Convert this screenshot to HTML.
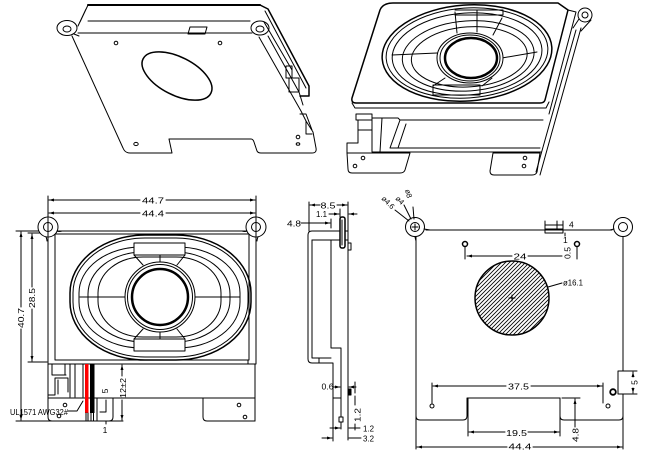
<!DOCTYPE html>
<html><head><meta charset="utf-8"><style>
html,body{margin:0;padding:0;background:#fff;width:646px;height:452px;overflow:hidden}
svg{display:block}
.t text{font-family:"Liberation Sans",sans-serif;font-size:8.5px;fill:#000;stroke:none}
</style></head><body>
<svg width="646" height="452" viewBox="0 0 646 452" xmlns="http://www.w3.org/2000/svg">
<defs>
<marker id="a" viewBox="0 0 10 6" refX="10" refY="3" markerWidth="5" markerHeight="3" orient="auto" markerUnits="userSpaceOnUse"><path d="M0,0 L10,3 L0,6 Z" fill="#000"/></marker>
<pattern id="h" patternUnits="userSpaceOnUse" width="4" height="4"><path d="M-1,1 L1,-1 M0,4 L4,0 M3,5 L5,3" stroke="#000" stroke-width="0.8"/></pattern>
</defs>
<rect width="646" height="452" fill="#fff"/>
<g fill="none" stroke="#000" stroke-width="1" stroke-linejoin="round" stroke-linecap="round">

<!-- ===== TOP-LEFT 3D ===== -->
<path d="M88,5 H260" stroke-width="2"/>
<path d="M88,5 L80,22 M86,9 L78,26"/>
<path d="M88,21 H250"/>
<path d="M78,33 H252"/>
<path d="M72,36 L123,148 Q125,153 130,153 H172 L169,139 H251 Q253,139 254,142 L257,151 Q258,153 261,153 H312 Q317,153 316,148 L313,132 L306,121 L301,111 L259,37"/>
<ellipse cx="67" cy="28" rx="10" ry="7.5" fill="#fff"/>
<ellipse cx="67" cy="29" rx="4" ry="3"/>
<path d="M74,34 L79,36"/>
<ellipse cx="260" cy="28" rx="9" ry="7" fill="#fff"/>
<ellipse cx="260" cy="29" rx="4" ry="3"/>
<path d="M260,5 L268,9 L309,86 V96 H300" stroke-width="1.5"/>
<path d="M265,11 L306,88"/>
<path d="M264,22 L292,70"/>
<path d="M268,36 L299,92 L303,105"/>
<path d="M286,66 H292 V78 H286 Z M289,78 H299 V92 H289 Z"/>
<path d="M300,114 H306 L312,130 M306,121 V134 H312"/>
<path d="M190,27 H207 L205,34 H188 Z"/>
<circle cx="116" cy="43" r="1.8"/>
<circle cx="220" cy="43" r="1.8"/>
<ellipse cx="136" cy="144" rx="2.2" ry="1.6"/>
<circle cx="298" cy="137" r="1.8"/>
<ellipse cx="298" cy="144" rx="1.8" ry="1.3"/>
<ellipse cx="177" cy="76" rx="38" ry="19" transform="rotate(27 177 76)" stroke-width="1.5"/>

<!-- ===== TOP-RIGHT 3D ===== -->
<path d="M393,3 H558 L568,10 L545,100 Q544,103 540,103 H356 Q351,103 352,98 L380,10 Q383,3 393,3 Z" stroke-width="1.5"/>
<path d="M352,103 L355,108 H546 L549,102"/>
<path d="M568,10 L576,12 L549,114"/>
<path d="M581,28 L540,175 M576,30 L536,172"/>
<path d="M579,19 L573,28 M591,20 L581,31"/>
<circle cx="585" cy="15" r="7" fill="#fff"/>
<circle cx="585" cy="15" r="3"/>
<g transform="rotate(-4 467 53)">
<ellipse cx="467" cy="53" rx="85" ry="48" stroke-width="1.5"/>
<ellipse cx="467" cy="53" rx="81" ry="45"/>
<ellipse cx="467" cy="54" rx="75" ry="41"/>
<ellipse cx="468" cy="56" rx="66" ry="35"/>
<ellipse cx="469" cy="57" rx="58" ry="30"/>
</g>
<path d="M455,12 L457,33 M477,10 L477,32 M502,18 L493,35 M392,55 L437,53 M502,58 L537,52 M433,86 L445,78 M482,86 L492,78"/>
<path d="M433,85 H480 V95 H433 Z M455,10 H503 V15 H455"/>
<ellipse cx="470" cy="58" rx="33" ry="25" fill="#fff"/>
<ellipse cx="470" cy="58" rx="30" ry="23"/>
<ellipse cx="471" cy="58" rx="26" ry="20" stroke-width="2.5"/>
<path d="M400,120 H543 M400,120 L390,148 H540 M373,152 H541 M406,124 L398,148"/>
<path d="M356,114 H372 V120 H356 Z M358,120 V143 H347 V153 M358,130 H372 M372,118 H382 L380,152 H372 Z M382,118 H398 L400,120"/>
<path d="M347,153 H410 L405,170 Q404,173 400,173 H352 Q348,173 348,169 Z"/>
<path d="M493,153 H540 L537,172 Q536,175 532,175 H494 Q490,175 490,171 Z"/>
<circle cx="363" cy="158" r="1.8"/><circle cx="355" cy="166" r="1.8"/>
<circle cx="525" cy="158" r="1.8"/><circle cx="524" cy="166" r="1.8"/>

<!-- ===== FRONT VIEW ===== -->
<path d="M48,196 V218 M256,196 V218"/>
<path d="M140,200 H49" marker-end="url(#a)"/><path d="M166,200 H255" marker-end="url(#a)"/>
<path d="M140,213 H49" marker-end="url(#a)"/><path d="M166,213 H255" marker-end="url(#a)"/>
<path d="M16,231 H46 M28,233 H46 M28,362 H47 M16,421 H123"/>
<path d="M21,307 V232" marker-end="url(#a)"/><path d="M21,329 V420" marker-end="url(#a)"/>
<path d="M32,287 V234" marker-end="url(#a)"/><path d="M32,309 V361" marker-end="url(#a)"/>
<rect x="48" y="231" width="208" height="133"/>
<path d="M55,234 H249 V360 H55 Z"/>
<rect x="70" y="235" width="181" height="125" rx="75" ry="58" stroke-width="1.5"/>
<rect x="73" y="238" width="175" height="119" rx="72" ry="55"/>
<rect x="79" y="247" width="161" height="101" rx="62" ry="46"/>
<rect x="88" y="252" width="142" height="90" rx="55" ry="42"/>
<rect x="98" y="257" width="123" height="80" rx="45" ry="36"/>
<rect x="134" y="243" width="51" height="12" fill="#fff"/>
<rect x="134" y="339" width="51" height="12" fill="#fff"/>
<path d="M80,297 H125 M195,297 H240 M160,255 V262 M160,332 V339 M134,255 L143,265 M185,255 L177,265 M134,339 L143,329 M185,339 L177,329"/>
<circle cx="160" cy="297" r="35" fill="#fff"/>
<circle cx="160" cy="297" r="32.5"/>
<circle cx="160" cy="297" r="28" stroke-width="2.5"/>
<circle cx="48" cy="227" r="10" fill="#fff"/>
<circle cx="48" cy="227" r="4.5"/>
<path d="M57,231 Q59,232 62,231 M46,237 Q47,239 47,241 M48,218 V236"/>
<circle cx="256" cy="227" r="10" fill="#fff"/>
<circle cx="256" cy="227" r="4.5"/>
<path d="M247,231 Q245,232 242,231 M258,237 Q257,239 257,241 M256,218 V236"/>
<path d="M48,364 V398 H255 M255,364 V421"/>
<path d="M48,398 V417 Q48,421 52,421 H109 Q113,421 113,417 V398"/>
<path d="M203,398 V417 Q203,421 207,421 H255"/>
<circle cx="65" cy="405" r="1.8"/><circle cx="59" cy="416" r="1.8"/>
<circle cx="239" cy="405" r="1.8"/><circle cx="245" cy="417" r="1.8"/>
<path d="M52,364 V375 H66 M55,378 H68 V392 M55,378 V395 H48 M58,380 V394 M65,364 V375 M70,364 V397 M75,364 V397 M83,364 V397"/>
<path d="M238,360 H248 V364"/>
<rect x="85" y="364" width="3.5" height="49" fill="#ff0000" stroke="none"/>
<rect x="90" y="364" width="4.5" height="49" fill="#000" stroke="none"/>
<path d="M86,413 V421 M88,413 V421 M91,413 V421 M93.5,413 V421"/>
<path d="M97,398 V421 M106,400 V412 H100 M106,421 V424"/>
<path d="M68,411 H77 L83,401"/>
<path d="M122,376 V365" marker-end="url(#a)"/><path d="M122,400 V420" marker-end="url(#a)"/>

<!-- ===== SIDE VIEW ===== -->
<path d="M309,202 V231 M348,202 V231"/>
<path d="M320,205 H310" marker-end="url(#a)"/><path d="M337,205 H347" marker-end="url(#a)"/>
<path d="M329,214 H339" marker-end="url(#a)"/><path d="M357,214 H349" marker-end="url(#a)"/>
<path d="M340,209 V217"/>
<path d="M301,223 H330" marker-end="url(#a)"/><path d="M331,219 V228"/>
<path d="M312,231 H348 M312,240 H348"/>
<path d="M312,231 Q308,231 308,235 V359 Q308,363 312,363 H333 V398 H341"/>
<path d="M312,240 V358 H331 M319,358 V363"/>
<path d="M331,240 V348 H341 V429"/>
<path d="M348,231 V440"/>
<rect x="340" y="217" width="5" height="31" rx="2" fill="#fff" stroke-width="1.5"/>
<path d="M342,220 V245"/>
<path d="M348,243 H351 V250 H348"/>
<rect x="348" y="389" width="3" height="6" fill="#000"/>
<rect x="339" y="417" width="4" height="5" fill="#fff"/>
<path d="M333,387 H340" marker-end="url(#a)"/><path d="M356,387 H349" marker-end="url(#a)"/>
<path d="M355,382 V393"/>
<path d="M355,396 V405 M355,424 V430"/>
<path d="M330,428 H340" marker-end="url(#a)"/><path d="M349,428 H360"/>
<path d="M322,438 H332" marker-end="url(#a)"/><path d="M349,438 H361"/>
<path d="M333,398 V441"/>

<!-- ===== RIGHT VIEW ===== -->
<path d="M426,230 H612"/>
<path d="M416,237 V449"/>
<path d="M623,237 V371 H618 V394 H623 V449"/>
<path d="M623,371 H637 M623,394 H637"/>
<path d="M633,377 V372" marker-end="url(#a)"/><path d="M633,388 V393" marker-end="url(#a)"/>
<circle cx="415" cy="227" r="9.5" fill="#fff"/>
<path d="M424,229 L430,230 M415,237 L416,241"/>
<circle cx="415" cy="227" r="4.5"/>
<path d="M412,227 H418 M415,224 V230"/>
<circle cx="623" cy="227" r="9.5" fill="#fff"/>
<circle cx="623" cy="227" r="4.5"/>
<path d="M614,229 L610,230"/>
<path d="M416,416 Q416,420 420,420 H463 Q467,420 467,416 V398 H560 V416 Q560,420 564,420 H619 Q623,420 623,416"/>
<path d="M468,398 V436 M560,398 V436"/>
<path d="M505,432 H469" marker-end="url(#a)"/><path d="M528,432 H559" marker-end="url(#a)"/>
<path d="M562,398 H580"/>
<path d="M575,412 V399" marker-end="url(#a)"/><path d="M575,412 V427"/>
<path d="M432,383 V403 M603,383 V403"/>
<path d="M506,386 H433" marker-end="url(#a)"/><path d="M531,386 H602" marker-end="url(#a)"/>
<path d="M507,447 H417" marker-end="url(#a)"/><path d="M533,447 H622" marker-end="url(#a)"/>
<circle cx="432" cy="406" r="2"/>
<circle cx="608" cy="406" r="2"/>
<circle cx="613" cy="392" r="2.8" stroke-width="1.8"/>
<circle cx="465" cy="244" r="2.5" stroke-width="1.5"/><path d="M465,247 V259"/>
<circle cx="577" cy="244" r="2.5" stroke-width="1.5"/><path d="M577,247 V259"/>
<path d="M512,256 H467" marker-end="url(#a)"/><path d="M528,256 H562"/>
<path d="M545,221 V229 M557,221 V229 M563,221 V229 M545,225 H563"/>
<rect x="545" y="229" width="18" height="4"/>
<path d="M565,233 V236"/>
<circle cx="512" cy="298" r="37" fill="url(#h)" stroke-width="1.5"/>
<path d="M509,298 H515 M512,295 V301"/>
<path d="M548,287 L562,283"/>
<path d="M395,210 L409,221 M404,205 L411,219 M413,207 L414,219"/>
</g>

<g class="t">
<text x="153" y="203.5" text-anchor="middle" textLength="22" lengthAdjust="spacingAndGlyphs">44.7</text>
<text x="153" y="216.5" text-anchor="middle" textLength="22" lengthAdjust="spacingAndGlyphs">44.4</text>
<text transform="translate(24,318) rotate(-90)" text-anchor="middle" textLength="20" lengthAdjust="spacingAndGlyphs">40.7</text>
<text transform="translate(35,298) rotate(-90)" text-anchor="middle" textLength="20" lengthAdjust="spacingAndGlyphs">28.5</text>
<text transform="translate(126,388) rotate(-90)" text-anchor="middle" textLength="20" lengthAdjust="spacingAndGlyphs">12±2</text>
<text transform="translate(108,391) rotate(-90)" text-anchor="middle">5</text>
<text x="105" y="433" text-anchor="middle">1</text>
<text x="10" y="415" font-size="8" textLength="58" lengthAdjust="spacingAndGlyphs" style="font-size:8px">UL1571 AWG32#</text>

<text x="328" y="208.5" text-anchor="middle" textLength="15" lengthAdjust="spacingAndGlyphs">8.5</text>
<text x="321.5" y="217" text-anchor="middle" textLength="11" lengthAdjust="spacingAndGlyphs">1.1</text>
<text x="294" y="226.5" text-anchor="middle" textLength="14" lengthAdjust="spacingAndGlyphs">4.8</text>
<text x="327.5" y="389.5" text-anchor="middle" textLength="12" lengthAdjust="spacingAndGlyphs">0.6</text>
<text transform="translate(360.5,415) rotate(-90)" text-anchor="middle" textLength="14" lengthAdjust="spacingAndGlyphs">1.2</text>
<text x="368.5" y="431.5" text-anchor="middle" textLength="11" lengthAdjust="spacingAndGlyphs">1.2</text>
<text x="368.5" y="441.5" text-anchor="middle" textLength="11" lengthAdjust="spacingAndGlyphs">3.2</text>

<text transform="translate(381,199) rotate(45)" style="font-size:7.5px">ø4.6</text>
<text transform="translate(395,199) rotate(45)" style="font-size:7.5px">ø4</text>
<text transform="translate(405,190) rotate(75)" style="font-size:7.5px">ø8</text>
<text x="569" y="227.5">4</text>
<text x="563" y="243">1</text>
<text transform="translate(570.5,253) rotate(-90)" text-anchor="middle" textLength="12" lengthAdjust="spacingAndGlyphs">0.5</text>
<text x="520" y="259.5" text-anchor="middle" textLength="13" lengthAdjust="spacingAndGlyphs">24</text>
<text x="563" y="285.5" textLength="20" lengthAdjust="spacingAndGlyphs">ø16.1</text>
<text x="518.5" y="389.5" text-anchor="middle" textLength="21" lengthAdjust="spacingAndGlyphs">37.5</text>
<text x="516.5" y="436" text-anchor="middle" textLength="21" lengthAdjust="spacingAndGlyphs">19.5</text>
<text transform="translate(578.5,435) rotate(-90)" text-anchor="middle" textLength="14" lengthAdjust="spacingAndGlyphs">4.8</text>
<text x="520" y="449.5" text-anchor="middle" textLength="23" lengthAdjust="spacingAndGlyphs">44.4</text>
<text transform="translate(637.5,382.5) rotate(-90)" text-anchor="middle">5</text>
</g>
</svg>
</body></html>
